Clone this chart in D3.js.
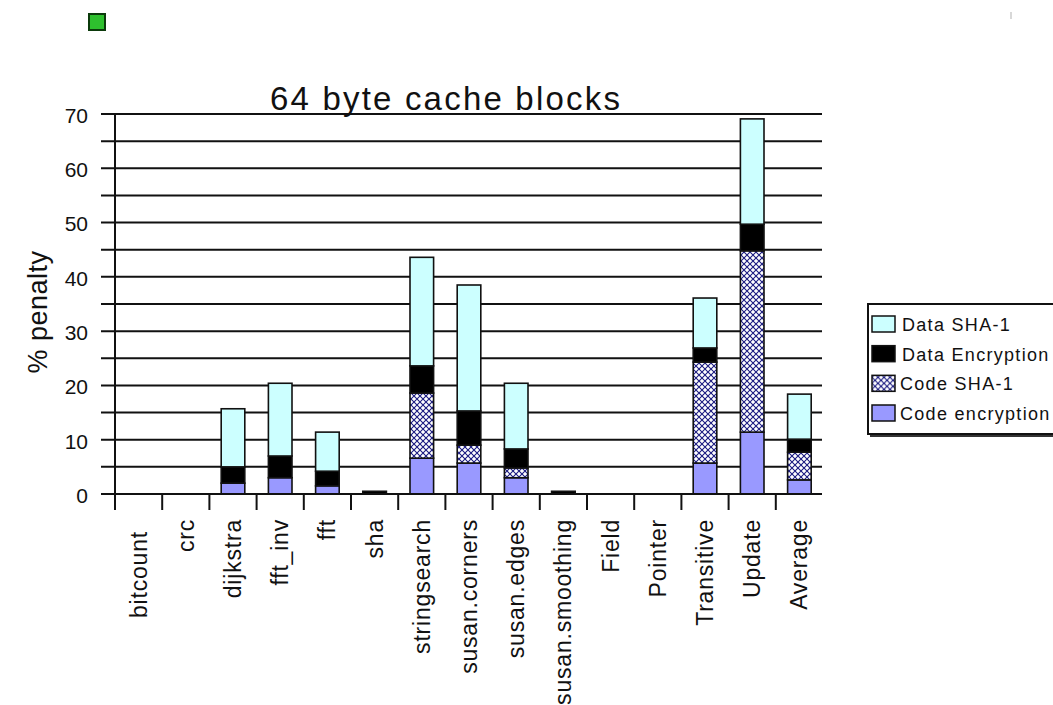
<!DOCTYPE html>
<html>
<head>
<meta charset="utf-8">
<script src="https://cdn.jsdelivr.net/npm/d3@7"></script>
<style>
  html, body { margin: 0; padding: 0; background: #fff; }
  svg { display: block; font-family: "Liberation Sans", Arial, sans-serif; }
</style>
</head>
<body>
<svg id="chart" width="1053" height="705"></svg>
<script>
// Benchmarks on the category axis
const categories = ["bitcount", "crc", "dijkstra", "fft_inv", "fft", "sha", "stringsearch",
  "susan.corners", "susan.edges", "susan.smoothing", "Field", "Pointer", "Transitive", "Update", "Average"];

// Penalty (%) per component, stacked bottom to top
const codeEncryption = [0, 0, 2.0, 3.0, 1.5, 0, 6.6, 5.7, 3.0, 0, 0, 0, 5.7, 11.4, 2.6];
const codeSHA1       = [0, 0, 0, 0, 0, 0, 12.0, 3.3, 1.8, 0, 0, 0, 18.6, 33.4, 5.1];
const dataEncryption = [0, 0, 3.0, 4.0, 2.7, 0.5, 5.0, 6.3, 3.5, 0.5, 0, 0, 2.6, 4.9, 2.4];
const dataSHA1       = [0, 0, 10.7, 13.4, 7.2, 0, 20.0, 23.2, 12.1, 0, 0, 0, 9.2, 19.4, 8.3];

const seriesNames = ["Code encryption", "Code SHA-1", "Data Encryption", "Data SHA-1"];
const yTicks = [0, 10, 20, 30, 40, 50, 60, 70];
const gridValues = d3.range(0, 71, 5);

const svg = d3.select("#chart");

// Hatched fill for the Code SHA-1 segments
const defs = svg.append("defs");
const pat = defs.append("pattern")
  .attr("id", "hatch").attr("patternUnits", "userSpaceOnUse")
  .attr("width", 6).attr("height", 6);
pat.append("rect").attr("width", 6).attr("height", 6).attr("fill", "#ffffff");
pat.append("path").attr("d", "M0,0 L6,6 M6,0 L0,6")
  .attr("stroke", "#1a1a80").attr("stroke-width", 1.1);

const fills = {
  "Code encryption": "#9999ff",
  "Code SHA-1": "url(#hatch)",
  "Data Encryption": "#000000",
  "Data SHA-1": "#ccffff"
};

const rows = categories.map((c, i) => ({
  cat: c,
  "Code encryption": codeEncryption[i],
  "Code SHA-1": codeSHA1[i],
  "Data Encryption": dataEncryption[i],
  "Data SHA-1": dataSHA1[i]
}));

const plot = { left: 115, right: 823, top: 114, bottom: 494 };

const x = d3.scaleBand().domain(categories)
  .range([plot.left, plot.right]).paddingInner(0.5).paddingOuter(0.25);
const y = d3.scaleLinear().domain([0, 70]).range([plot.bottom, plot.top]);

// Small marker in the top-left corner
svg.append("rect").attr("x", 89).attr("y", 14).attr("width", 16).attr("height", 16)
  .attr("fill", "#2ec02e").attr("stroke", "#0b3a0b").attr("stroke-width", 2);
svg.append("rect").attr("x", 1010).attr("y", 12).attr("width", 2).attr("height", 7)
  .attr("fill", "#d8d8d8");

// Horizontal gridlines (also serve as y tick marks)
svg.append("g").selectAll("line").data(gridValues).join("line")
  .attr("x1", 101).attr("x2", plot.right - 1)
  .attr("y1", d => y(d)).attr("y2", d => y(d))
  .attr("stroke", "#111").attr("stroke-width", 2);

// Y axis labels
const yAxis = d3.axisLeft(y).tickValues(yTicks).tickSize(0).tickPadding(0);
const gy = svg.append("g").attr("transform", `translate(88,0)`).call(yAxis);
gy.select(".domain").remove();
gy.selectAll("text").attr("font-size", 21).attr("fill", "#111")
  .attr("font-family", "'Liberation Sans', Arial, sans-serif").attr("dy", "0.4em");

// Y axis line
svg.append("line").attr("x1", plot.left).attr("x2", plot.left)
  .attr("y1", plot.top).attr("y2", 510).attr("stroke", "#111").attr("stroke-width", 2);

// Stacked bars
const stack = d3.stack().keys(seriesNames);
const layers = stack(rows);
svg.append("g").selectAll("g").data(layers).join("g")
  .attr("fill", d => fills[d.key])
  .selectAll("rect").data(d => d.filter(s => s[1] - s[0] > 0)).join("rect")
  .attr("x", d => x(d.data.cat))
  .attr("width", x.bandwidth())
  .attr("y", d => y(d[1]))
  .attr("height", d => y(d[0]) - y(d[1]))
  .attr("stroke", "#111").attr("stroke-width", 1.6);

// X axis line and boundary ticks
svg.append("line").attr("x1", plot.left).attr("x2", plot.right - 1)
  .attr("y1", plot.bottom).attr("y2", plot.bottom).attr("stroke", "#111").attr("stroke-width", 2);
const step = x.step();
svg.append("g").selectAll("line").data(categories).join("line")
  .attr("x1", d => x(d) - step * 0.25).attr("x2", d => x(d) - step * 0.25)
  .attr("y1", plot.bottom).attr("y2", 510)
  .attr("stroke", "#111").attr("stroke-width", 2);

// Category labels, rotated
svg.append("g").selectAll("text").data(categories).join("text")
  .attr("transform", d => `translate(${x(d) + x.bandwidth() / 2 + 8},${d === "bitcount" ? 531 : 519}) rotate(-90)`)
  .attr("text-anchor", "end")
  .attr("font-size", 23).attr("letter-spacing", 0.8).attr("fill", "#111")
  .text(d => d);

// Title
svg.append("text").attr("x", 446).attr("y", 110).attr("text-anchor", "middle")
  .attr("font-size", 33).attr("letter-spacing", 2.2).attr("fill", "#111")
  .text("64 byte cache blocks");

// Y axis title
svg.append("text").attr("transform", "translate(47,312) rotate(-90)")
  .attr("text-anchor", "middle").attr("font-size", 27).attr("letter-spacing", 0.5).attr("fill", "#111")
  .text("% penalty");

// Legend
const lg = svg.append("g");
lg.append("rect").attr("x", 868).attr("y", 304).attr("width", 200).attr("height", 130)
  .attr("fill", "#fff").attr("stroke", "#111").attr("stroke-width", 2);
lg.append("line").attr("x1", 870).attr("x2", 1060).attr("y1", 436).attr("y2", 436)
  .attr("stroke", "#333").attr("stroke-width", 2);
const legendOrder = ["Data SHA-1", "Data Encryption", "Code SHA-1", "Code encryption"];
const ly = d3.scalePoint().domain(legendOrder).range([324, 413]);
const items = lg.selectAll("g.item").data(legendOrder).join("g").attr("class", "item")
  .attr("transform", d => `translate(872,${ly(d)})`);
items.append("rect").attr("x", 0).attr("y", -8).attr("width", 23).attr("height", 16)
  .attr("fill", d => fills[d]).attr("stroke", "#111").attr("stroke-width", 1.5);
items.append("text").attr("x", d => d.startsWith("Data") ? 30 : 28).attr("y", 7)
  .attr("font-size", 18).attr("letter-spacing", 1.3).attr("fill", "#111")
  .text(d => d);
</script>
</body>
</html>
